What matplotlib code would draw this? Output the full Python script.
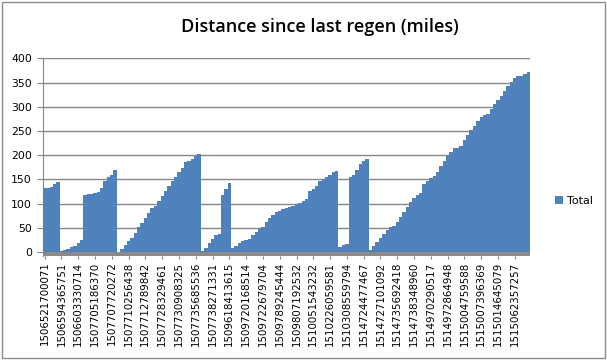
import numpy as np
import matplotlib.pyplot as plt
from matplotlib.patches import Rectangle

# distance since last regen, one value per timestamp bucket
distance = [
    132, 132, 135, 140, 145, 2, 4, 7, 10, 13, 18, 24,
    117, 119, 120, 121, 124, 133, 146, 155, 160, 170,
    1, 6, 14, 22, 30, 40, 51, 61, 71, 81, 90, 96, 106, 116, 126, 137,
    147, 156, 165, 174, 185, 188, 192, 198, 202,
    3, 8, 18, 28, 35, 37, 118, 130, 142,
    8, 12, 18, 23, 25, 28, 35, 41, 47, 52, 62, 71, 77, 82, 85, 88, 90,
    93, 96, 99, 102, 106, 109, 126, 131, 137, 146, 150, 155, 160, 165, 167,
    10, 14, 17, 155, 160, 170, 182, 187, 193,
    4, 12, 20, 30, 38, 45, 51, 54, 63, 73, 83, 93, 103, 112, 117, 122,
    141, 147, 152, 158, 166, 177, 189, 199, 207, 214, 215, 220, 231, 241,
    251, 261, 271, 279, 282, 285, 295, 305, 314, 323, 332, 342, 352, 360,
    363, 364, 368, 372,
]

# labels shown on every 5th category
tick_labels = [
    "1506521700071", "1506594365751", "1506603330714", "1507705186370",
    "1507707720272", "1507710256438", "1507712789842", "1507728329461",
    "1507730908325", "1507735685536", "1507738271331", "1509618413615",
    "1509720168514", "1509722679704", "1509789245444", "1509807192532",
    "1510051543232", "1510226059581", "1510308559794", "1514724477467",
    "1514727101092", "1514735692418", "1514738348960", "1514970290517",
    "1514972864948", "1515004759588", "1515007396369", "1515014645079",
    "1515062357257",
]
label_step = 5

blue = "#4F81BD"
grid_gray = "#868686"

fig = plt.figure(figsize=(6.07, 3.6), dpi=100)
fig.patches.append(Rectangle((0.004, 0.006), 0.992, 0.988, transform=fig.transFigure,
                             fill=False, edgecolor="#8c8c8c", linewidth=1.0))

ax = fig.add_axes([0.0708, 0.289, 0.8022, 0.549])
n = len(distance)
edges = np.arange(n + 1) - 0.5
# gap-free columns drawn as one stepped area
ax.fill_between(edges, np.append(distance, distance[-1]), 0, step="post",
                facecolor=blue, edgecolor="none", linewidth=0, label="Total", zorder=3)

# grey floor under the columns
ax.axhspan(-8, 0, color="#8a8a8a", zorder=2, linewidth=0)

ax.set_xlim(-0.5, n - 0.5)
ax.set_ylim(-8, 400)
ax.set_yticks(range(0, 401, 50))
for v in range(50, 401, 50):
    ax.axhline(v, color=grid_gray, linewidth=1.0, zorder=1)

ax.set_xticks(np.arange(n)[::label_step])
ax.set_xticklabels(tick_labels, rotation=90, fontsize=7.4, family="DejaVu Sans")
ax.tick_params(axis="x", length=2, color=grid_gray, pad=2)
ax.tick_params(axis="y", length=4, color=grid_gray, labelsize=7.8, pad=4)

for side in ["top", "right", "bottom"]:
    ax.spines[side].set_visible(False)
ax.spines["left"].set_color(grid_gray)
ax.spines["left"].set_bounds(-8, 400)

fig.text(0.527, 0.925, "Distance since last regen (miles)", ha="center", va="center",
         fontsize=13, family="Open Sans", weight="semibold")

leg = ax.legend(loc="center left", bbox_to_anchor=(1.03, 0.28), frameon=False,
                fontsize=8, handlelength=0.8, handleheight=0.8, handletextpad=0.3)

fig.savefig("out.png", dpi=100)
